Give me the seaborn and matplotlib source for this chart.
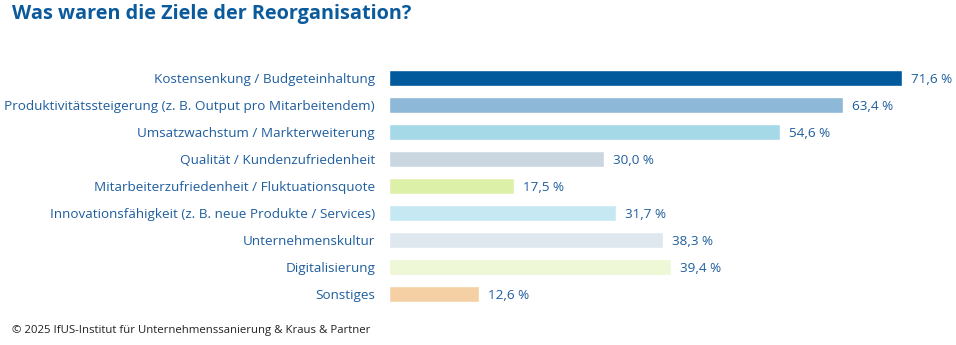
import matplotlib
matplotlib.use("Agg")
import matplotlib.pyplot as plt
import seaborn as sns
import pandas as pd

categories = [
    "Kostensenkung / Budgeteinhaltung",
    "Produktivitätssteigerung (z. B. Output pro Mitarbeitendem)",
    "Umsatzwachstum / Markterweiterung",
    "Qualität / Kundenzufriedenheit",
    "Mitarbeiterzufriedenheit / Fluktuationsquote",
    "Innovationsfähigkeit (z. B. neue Produkte / Services)",
    "Unternehmenskultur",
    "Digitalisierung",
    "Sonstiges",
]
values = [71.6, 63.4, 54.6, 30.0, 17.5, 31.7, 38.3, 39.4, 12.6]
colors = ["#005A9C", "#8DB8D8", "#A6D9E8", "#CAD7E0", "#DDF0A8",
          "#C5E8F2", "#DFE8EE", "#EEF7D6", "#F4D0A4"]

title = "Was waren die Ziele der Reorganisation?"
footer = "© 2025 IfUS-Institut für Unternehmenssanierung & Kraus & Partner"

sns.set_theme(style="white")
plt.rcParams["font.family"] = ["Open Sans", "DejaVu Sans"]

text_blue = "#1F5E9E"
df = pd.DataFrame({"cat": categories, "val": values})

fig = plt.figure(figsize=(9.56, 3.45), dpi=100)
ax = fig.add_axes([389 / 956, 1 - 307.5 / 345, 551 / 956, (307.5 - 64.5) / 345])
sns.barplot(data=df, y="cat", x="val", hue="cat", palette=colors, legend=False,
            width=0.6, ax=ax, saturation=1)

ax.set_xlim(0, 551 / 7.165)
ax.set_ylim(8.5, -0.5)
ax.set_xlabel("")
ax.set_ylabel("")
ax.set_xticks([])
for s in ax.spines.values():
    s.set_visible(False)
ax.tick_params(axis="y", length=0, pad=10, labelsize=9.7, labelcolor=text_blue)
for lbl in ax.get_yticklabels():
    lbl.set_verticalalignment("center_baseline")

for i, v in enumerate(values):
    ax.text(v + 1.2, i, f"{v:.1f} %".replace(".", ","), va="center_baseline",
            ha="left", fontsize=9.7, color=text_blue)

fig.text(12 / 956, 1 - 14 / 345, title, fontsize=14.3, fontweight="bold",
         color="#0B5A9C", ha="left", va="center")
fig.text(12 / 956, 1 - 330 / 345, footer, fontsize=8.2, color="#222222",
         ha="left", va="center")

fig.savefig("out.png", dpi=100)
